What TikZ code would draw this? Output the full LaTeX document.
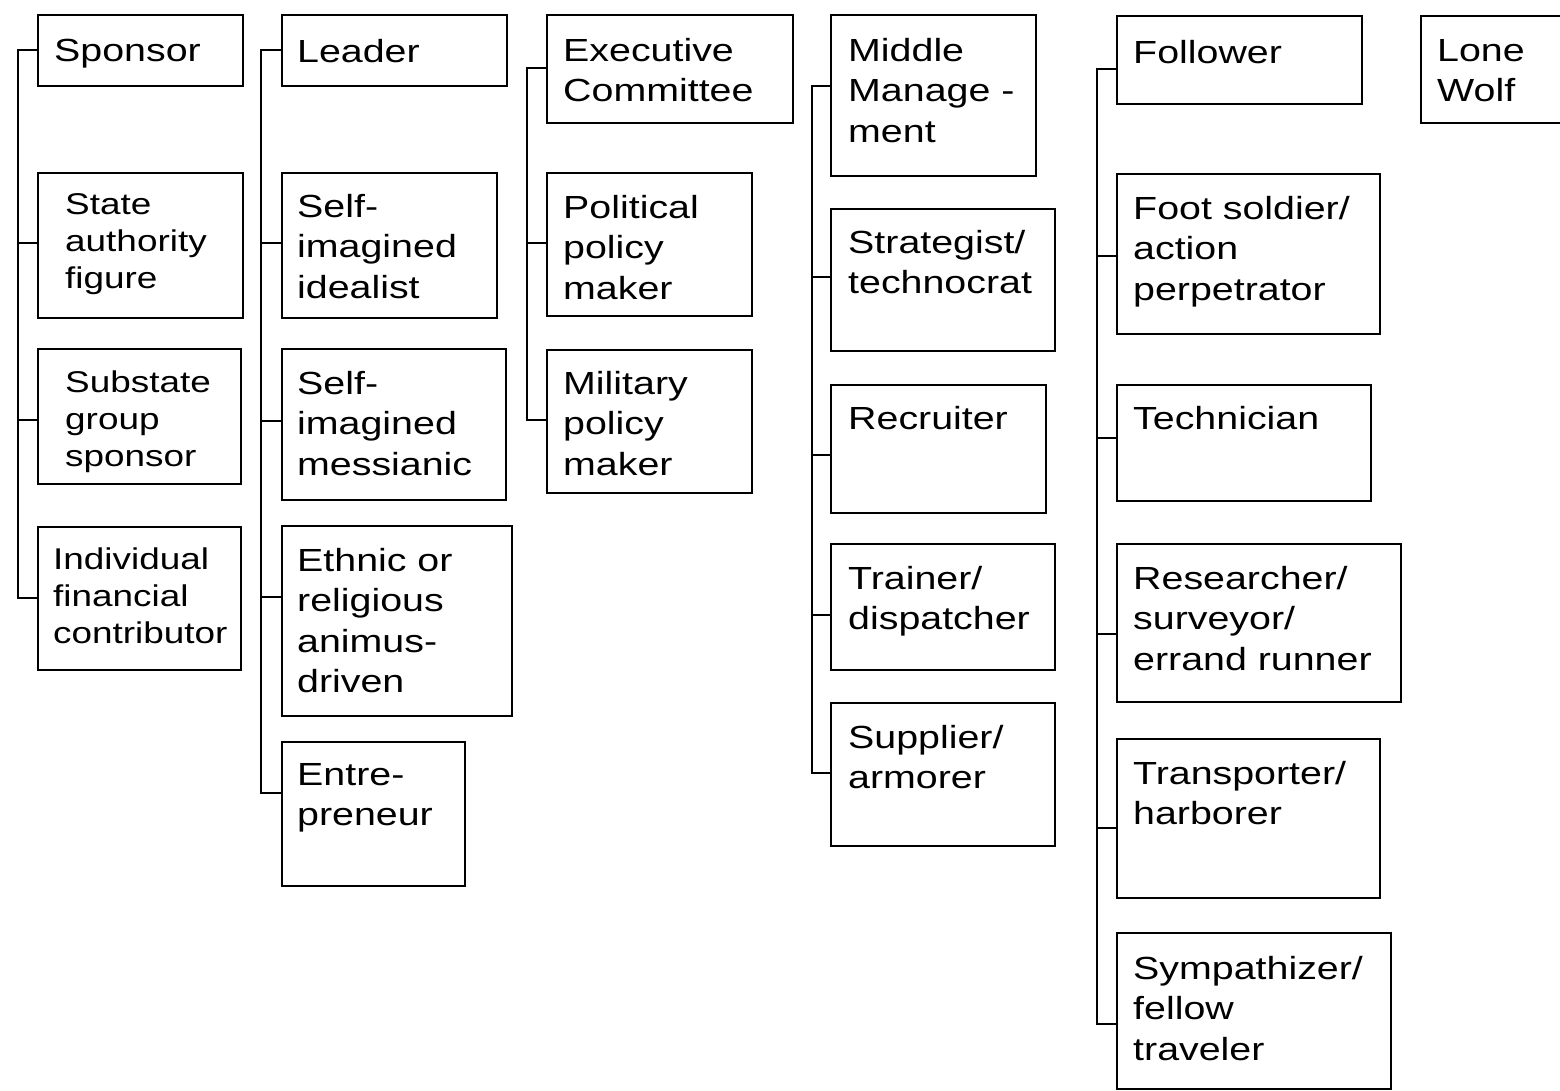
\documentclass[tikz,border=0pt]{standalone}
\usepackage{fontspec}
\setmainfont[FakeStretch=1.23]{Liberation Sans}
\begin{document}
\begin{tikzpicture}[x=1pt,y=-1pt,
  box/.style={draw, line width=2.6pt, anchor=north west, inner sep=0pt, outer sep=0pt},
  lbl/.style={anchor=north west, yshift=22.9pt, align=left, inner sep=0pt, font=\fontsize{32}{40.5}\selectfont},
  lbls/.style={anchor=north west, yshift=21.5pt, align=left, inner sep=0pt, font=\fontsize{30}{37}\selectfont},
  conn/.style={line width=2.4pt}]
\useasboundingbox (0,0) rectangle (1560,1091);
\clip (0,0) rectangle (1560,1091);
\newcommand\bx[5]{\node[box, minimum width={(#4)-(#2)}, minimum height={(#5)-(#3)}] (#1) at (#2,#3) {};}
% column 1
\bx{sp}{38}{15}{243}{86}
\bx{st}{38}{173}{243}{318}
\bx{ss}{38}{349}{241}{484}
\bx{ind}{38}{527}{241}{670}
\node[lbl] (sptx) at (54,62) {Sponsor};
\node[lbls] (sttx) at (65,215) {State\\authority\\figure};
\node[lbls] (sstx) at (65,392) {Substate\\group\\sponsor};
\node[lbls] (indtx) at (53,569) {Individual\\financial\\contributor};
% column 2
\bx{ld}{282}{15}{507}{86}
\bx{si}{282}{173}{497}{318}
\bx{sm}{282}{349}{506}{500}
\bx{eth}{282}{526}{512}{716}
\bx{ent}{282}{742}{465}{886}
\node[lbl] (ldtx) at (297,62) {Leader};
\node[lbl] (sitx) at (297,217) {Self-\\imagined\\idealist};
\node[lbl] (smtx) at (297,394) {Self-\\imagined\\messianic};
\node[lbl] (ethtx) at (297,571) {Ethnic or\\religious\\animus-\\driven};
\node[lbl] (enttx) at (297,786) {Entre-\\preneur};
% column 3
\bx{ex}{547}{15}{793}{123}
\bx{pol}{547}{173}{752}{316}
\bx{mil}{547}{350}{752}{493}
\node[lbl] (extx) at (563,61) {Executive\\Committee};
\node[lbl] (poltx) at (563,218) {Political\\policy\\maker};
\node[lbl] (miltx) at (563,394) {Military\\policy\\maker};
% column 4
\bx{mm}{831}{15}{1036}{176}
\bx{str}{831}{209}{1055}{351}
\bx{rec}{831}{385}{1046}{513}
\bx{tr}{831}{544}{1055}{670}
\bx{sup}{831}{703}{1055}{846}
\node[lbl] (mmtx) at (848,61) {Middle\\Manage -\\ment};
\node[lbl] (strtx) at (848,253) {Strategist/\\technocrat};
\node[lbl] (rectx) at (848,429) {Recruiter};
\node[lbl] (trtx) at (848,589) {Trainer/\\dispatcher};
\node[lbl] (suptx) at (848,748) {Supplier/\\armorer};
% column 5
\bx{fol}{1117}{16}{1362}{104}
\bx{foot}{1117}{174}{1380}{334}
\bx{tech}{1117}{385}{1371}{501}
\bx{res}{1117}{544}{1401}{702}
\bx{tra}{1117}{739}{1380}{898}
\bx{sym}{1117}{933}{1391}{1089}
\node[lbl] (foltx) at (1133,63) {Follower};
\node[lbl] (foottx) at (1133,219) {Foot soldier/\\action\\perpetrator};
\node[lbl] (techtx) at (1133,429) {Technician};
\node[lbl] (restx) at (1133,589) {Researcher/\\surveyor/\\errand runner};
\node[lbl] (tratx) at (1133,784) {Transporter/\\harborer};
\node[lbl] (symtx) at (1133,979) {Sympathizer/\\fellow\\traveler};
% column 6
\bx{lw}{1421}{16}{1590}{123}
\node[lbl] (lwtx) at (1437,62) {Lone\\Wolf};
% connectors
\draw[conn] (sp.west |- 0,50) -| (18,598) -- (ind.west |- 0,598);
\draw[conn] (18,243) -- (st.west |- 0,243);
\draw[conn] (18,420) -- (ss.west |- 0,420);
\draw[conn] (ld.west |- 0,50) -| (261,793) -- (ent.west |- 0,793);
\draw[conn] (261,243) -- (si.west |- 0,243);
\draw[conn] (261,421) -- (sm.west |- 0,421);
\draw[conn] (261,597) -- (eth.west |- 0,597);
\draw[conn] (ex.west |- 0,68) -| (527,420) -- (mil.west |- 0,420);
\draw[conn] (527,243) -- (pol.west |- 0,243);
\draw[conn] (mm.west |- 0,86) -| (812,773) -- (sup.west |- 0,773);
\draw[conn] (812,277) -- (str.west |- 0,277);
\draw[conn] (812,455) -- (rec.west |- 0,455);
\draw[conn] (812,615) -- (tr.west |- 0,615);
\draw[conn] (fol.west |- 0,69) -| (1097,1024) -- (sym.west |- 0,1024);
\draw[conn] (1097,256) -- (foot.west |- 0,256);
\draw[conn] (1097,438) -- (tech.west |- 0,438);
\draw[conn] (1097,634) -- (res.west |- 0,634);
\draw[conn] (1097,828) -- (tra.west |- 0,828);
\end{tikzpicture}
\end{document}
